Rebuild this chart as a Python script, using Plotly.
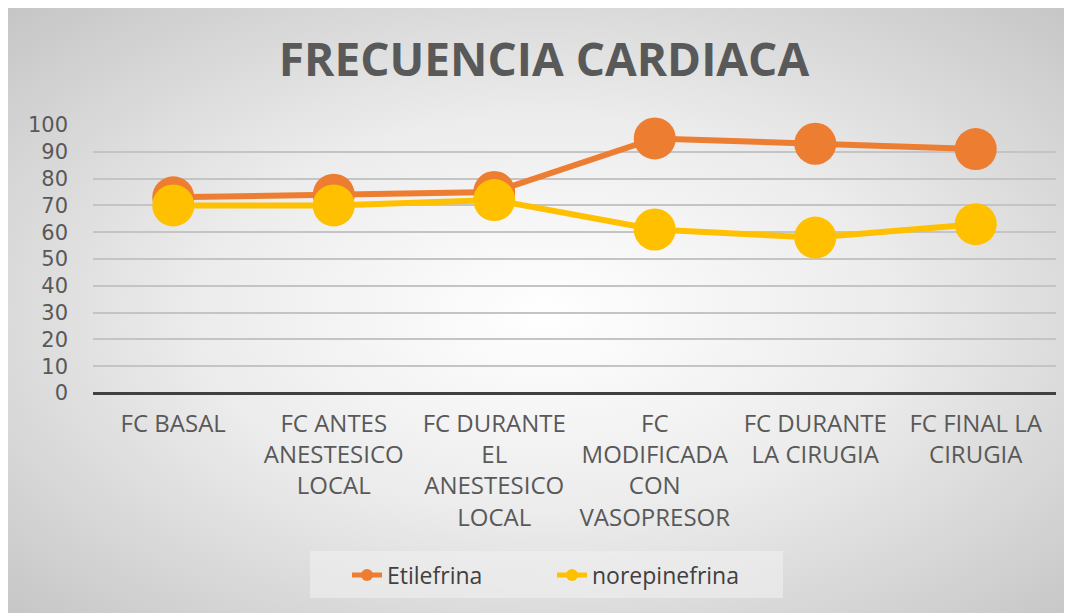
import base64
import plotly.graph_objects as go

# chart data
categories = [
    "FC BASAL",
    "FC ANTES<br>ANESTESICO<br>LOCAL",
    "FC DURANTE<br>EL<br>ANESTESICO<br>LOCAL",
    "FC<br>MODIFICADA<br>CON<br>VASOPRESOR",
    "FC DURANTE<br>LA CIRUGIA",
    "FC FINAL LA<br>CIRUGIA",
]
etilefrina = [73, 74, 75, 95, 93, 91]
norepinefrina = [70, 70, 72, 61, 58, 63]
y_ticks = list(range(0, 101, 10))

# page body has an 8px margin, so everything is offset by that
OFF = 8
W, H = 1072, 613
M_L, M_R, M_T, M_B = 93 - OFF, 24, 125 - OFF, 228
plot_w = W - M_L - M_R
plot_h = H - M_T - M_B


def px_x(x):
    # page x -> paper x
    return (x - OFF - M_L) / plot_w


def px_y(y):
    # page y -> paper y
    return 1 - (y - OFF - M_T) / plot_h


# radial gray gradient behind the whole chart (Excel style)
svg = (
    '<svg xmlns="http://www.w3.org/2000/svg" width="1072" height="613" preserveAspectRatio="none">'
    '<defs><radialGradient id="g" cx="50%" cy="50%" r="72%">'
    '<stop offset="0" stop-color="#ffffff"/>'
    '<stop offset="0.45" stop-color="#ececec"/>'
    '<stop offset="1" stop-color="#c4c4c4"/>'
    '</radialGradient></defs>'
    '<rect width="1072" height="613" fill="url(#g)"/></svg>'
)
bg_src = "data:image/svg+xml;base64," + base64.b64encode(svg.encode()).decode()

font_main = "Open Sans, DejaVu Sans, sans-serif"

fig = go.Figure()
fig.add_trace(go.Scatter(
    x=categories, y=etilefrina, name="Etilefrina", mode="lines+markers",
    line=dict(color="#ED7D31", width=6),
    marker=dict(size=42, color="#ED7D31"),
    cliponaxis=False,
))
fig.add_trace(go.Scatter(
    x=categories, y=norepinefrina, name="norepinefrina", mode="lines+markers",
    line=dict(color="#FFC000", width=6),
    marker=dict(size=42, color="#FFC000"),
    cliponaxis=False,
))

fig.add_layout_image(dict(
    source=bg_src, xref="paper", yref="paper",
    x=-M_L / plot_w, y=1 + M_T / plot_h,
    sizex=W / plot_w, sizey=H / plot_h,
    sizing="stretch", layer="below", xanchor="left", yanchor="top",
))

# legend box
fig.add_shape(
    type="rect", xref="paper", yref="paper",
    x0=px_x(310), x1=px_x(783), y0=px_y(598), y1=px_y(551),
    fillcolor="rgba(240,240,240,0.6)", line=dict(width=0), layer="below",
)

fig.update_layout(
    width=W, height=H,
    margin=dict(l=M_L, r=M_R, t=M_T, b=M_B),
    paper_bgcolor="#d8d8d8",
    plot_bgcolor="rgba(0,0,0,0)",
    font=dict(family=font_main, color="#595959"),
    title=dict(
        text="<b>FRECUENCIA CARDIACA</b>",
        x=0.5, xanchor="center", y=1 - (60 - OFF) / H, yanchor="middle",
        font=dict(size=46, color="#595959", family=font_main),
    ),
    showlegend=True,
    legend=dict(
        orientation="h", x=px_x(552), xanchor="center",
        y=px_y(575), yanchor="middle",
        bgcolor="rgba(0,0,0,0)", borderwidth=0,
        font=dict(size=23, color="#404040"), itemsizing="constant",
        entrywidth=160,
    ),
    xaxis=dict(
        type="category", range=[-0.5, len(categories) - 0.5],
        showgrid=False, zeroline=False,
        showline=False, ticks="", ticklabelstandoff=14,
        tickfont=dict(size=24, color="#595959"),
    ),
    yaxis=dict(
        range=[0, 100], tickvals=y_ticks, showgrid=True,
        gridcolor="#c4c4c4", gridwidth=1.5,
        zeroline=True, zerolinecolor="#404040", zerolinewidth=3,
        showline=False, ticks="", ticklabelstandoff=24,
        tickfont=dict(size=21, color="#595959", family="DejaVu Sans, sans-serif"),
    ),
)

fig.write_html("out.html")
